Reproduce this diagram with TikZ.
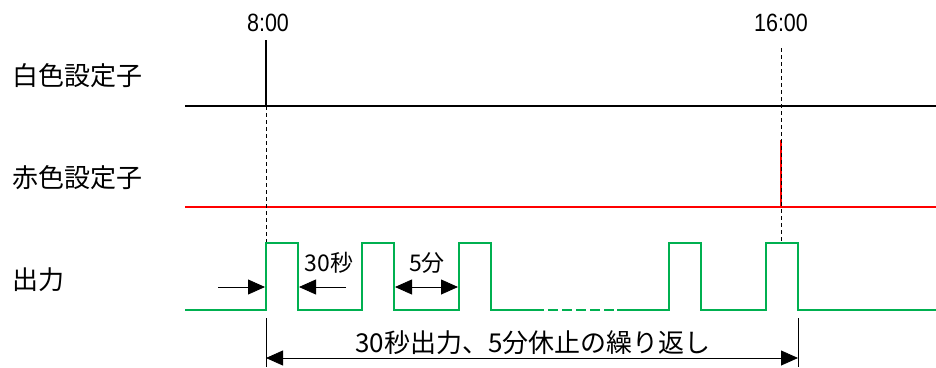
\documentclass[tikz,border=0pt]{standalone}
\usepackage{fontspec}
\setmainfont{Noto Sans CJK JP}
\newfontfamily\timefont[FakeStretch=0.86]{Liberation Sans}
\usepackage{tikz}
\usetikzlibrary{arrows.meta,positioning}
\definecolor{outgreen}{RGB}{0,176,80}
\definecolor{setred}{RGB}{255,0,0}

\begin{document}
\begin{tikzpicture}[x=1pt,y=-1pt,
	  sig/.style={line width=2pt},
	  outsig/.style={line width=2.5pt,draw=outgreen},
	  guide/.style={line width=0.6pt,dash pattern=on 4pt off 3pt},
	  dim/.style={line width=0.8pt,-{Triangle[length=17pt,width=15pt]}},
	  dimboth/.style={line width=0.8pt,{Triangle[length=17pt,width=15pt]}-{Triangle[length=17pt,width=15pt]}},
	  lbl/.style={font=\fontsize{26}{26}\selectfont,inner sep=0pt},
	  small/.style={font=\fontsize{23}{23}\selectfont,inner sep=0pt},
	  tlbl/.style={font=\timefont\fontsize{25}{25}\selectfont,inner sep=0pt}]
	  \useasboundingbox (0,0) rectangle (936,367);
	  % Beschriftung links
	  \node[lbl,anchor=west] (weiss) at (12,76) {白色設定子};
	  \node[lbl,anchor=west] (rot) at (12,178) {赤色設定子};
	  \node[lbl,anchor=west] (aus) at (12,280) {出力};
	  % Zeitpunkte
	  \node[tlbl] (t8) at (268,23) {8:00};
	  \node[tlbl] (t16) at (781,23) {16:00};
	  \coordinate (a8) at (266,106);
	  \coordinate (a16) at (781,48);
	  \coordinate (p8) at (266,243);
	  \coordinate (p16) at (781,243);
	  % weiss
	  \draw[sig] (185,106) -- (936,106);
	  \draw[sig] (266,40) -- (a8);
	  % rot
	  \draw[sig,setred] (185,207) -- (936,207);
	  \draw[sig,setred] (781,140) -- (781,207);
	  % Hilfslinien
	  \draw[guide] (a8) -- (p8);
	  \draw[guide] (a16) -- (p16);
	  % Ausgang
	  \draw[outsig] (185,310) -- (266,310) -- (266,243) -- (298,243) -- (298,310)
	    -- (362,310) -- (362,243) -- (394,243) -- (394,310)
	    -- (459,310) -- (459,243) -- (491,243) -- (491,310) -- (544,310);
	  \draw[outsig,dash pattern=on 10pt off 4pt] (548,310) -- (614,310);
	  \draw[outsig] (617,310) -- (669,310) -- (669,243) -- (701,243) -- (701,310)
	    -- (766,310) -- (766,243) -- (798,243) -- (798,310) -- (936,310);
	  % Pfeile
	  \coordinate (e0) at (218,287);
	  \coordinate (e1) at (265,287);
	  \coordinate (e2) at (299,287);
	  \coordinate (e3) at (346,287);
	  \coordinate (e4) at (395,287);
	  \coordinate (e5) at (458,287);
	  \draw[dim] (e0) -- (e1);
	  \draw[dim] (e3) -- (e2);
	  \draw[dimboth] (e4) -- (e5);
	  \node[small] (an) at (329,263) {30秒};
	  \node[small] (pause) at (427,263) {5分};
	  % Wiederholung
	  \coordinate (b1) at (266,318);
	  \coordinate (b2) at (798,318);
	  \draw[line width=0.8pt] (b1) -- (266,367);
	  \draw[line width=0.8pt] (b2) -- (798,367);
	  \draw[dimboth] (266,358) -- (798,358);
	  \node[lbl] (wdh) at (533,343) {30秒出力、5分休止の繰り返し};
	\end{tikzpicture}
\end{document}
